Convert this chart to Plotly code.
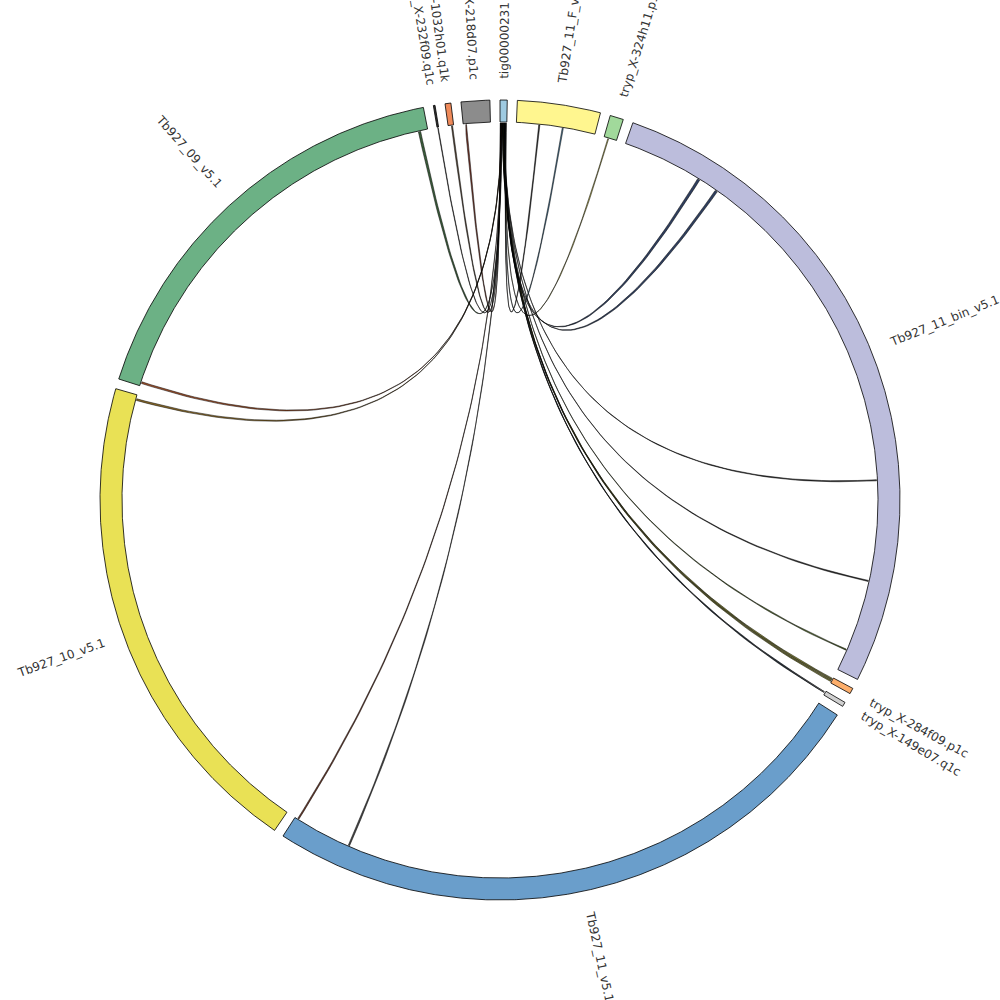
import numpy as np
import plotly.graph_objects as go

# ---------------- data ----------------
seg_names = ["tig00000231", "Tb927_11_F_v5.1", "tryp_X-324h11.p1c", "Tb927_11_bin_v5.1",
             "tryp_X-284f09.p1c", "tryp_X-149e07.q1c", "Tb927_11_v5.1", "Tb927_10_v5.1",
             "Tb927_09_v5.1", "tryp_X-232f09.q1c", "tryp_X-1032h01.q1k", "tryp_X-218d07.p1c"]
seg_lengths_kb = [60, 697, 113, 5621, 49, 38, 5222, 4153, 3546, 14, 49, 240]
seg_colors = ["#9ecae1", "#fff68f", "#a1d99b", "#bcbddc", "#fdae6b", "#d0d0d0",
              "#6a9ecb", "#e9e155", "#6cb185", "#333333", "#ef8a5a", "#8c8c8c"]

# links: all from tig00000231 to a target segment (positions in kb)
link_target = ["tryp_X-218d07.p1c", "tryp_X-1032h01.q1k", "tryp_X-232f09.q1c",
               "Tb927_09_v5.1", "Tb927_09_v5.1", "Tb927_10_v5.1",
               "Tb927_11_v5.1", "Tb927_11_v5.1",
               "tryp_X-149e07.q1c", "tryp_X-149e07.q1c",
               "tryp_X-284f09.p1c", "tryp_X-284f09.p1c", "tryp_X-284f09.p1c",
               "Tb927_11_bin_v5.1", "Tb927_11_bin_v5.1", "Tb927_11_bin_v5.1",
               "Tb927_11_bin_v5.1", "Tb927_11_bin_v5.1",
               "tryp_X-324h11.p1c", "Tb927_11_F_v5.1", "Tb927_11_F_v5.1"]
link_target_start = [17, 29, 5, 3462, 23, 4104, 5185, 4682, 12, 4, 29, 17, 6,
                     5427, 4792, 3902, 890, 705, 35, 405, 197]
link_target_len = [12, 10, 5, 20, 15, 15, 12, 12, 6, 6, 9, 9, 9,
                   10, 10, 10, 22, 22, 8, 10, 10]
link_tig_start = [2.0, 4.5, 7.0, 9.5, 12.0, 14.5, 17.0, 19.5, 22.0, 24.5, 27.0, 29.5, 32.0,
                  34.5, 37.0, 39.5, 42.0, 44.5, 47.0, 50.0, 53.0]
link_tig_len = [2.0] * 21
link_colors = ["#7a3b2e", "#5a4a3a", "#444444", "#3b5e3b", "#a0522d", "#8b6b2b",
               "#6b3a2a", "#4a4a4a", "#3a4a5a", "#3a4a5a", "#9a9a40", "#9a9a40", "#9a9a40",
               "#556b2f", "#333333", "#333333", "#2f3f5f", "#2f3f5f", "#c8c060", "#4a7a9a",
               "#333333"]

# ---------------- layout geometry ----------------
GAP = 1.45
R_OUT, R_IN, R_CHORD, R_LABEL = 400, 378, 377, 421
XMIN, YMAX = -500, 500
n = len(seg_names)
deg_per_kb = (360 - n * GAP) / sum(seg_lengths_kb)
seg_start = {}
cur = 0.0
for name, L in zip(seg_names, seg_lengths_kb):
    seg_start[name] = cur
    cur += L * deg_per_kb + GAP


def xy(theta, r):
    t = np.radians(theta)
    return r * np.sin(t), r * np.cos(t)


def arc(t0, t1, r, step=0.2):
    k = max(2, int(abs(t1 - t0) / step) + 2)
    th = np.linspace(t0, t1, k)
    return xy(th, r)


fig = go.Figure()

# chords
tig = seg_names[0]
for tgt, ts, tl, qs, ql, col in zip(link_target, link_target_start, link_target_len,
                                     link_tig_start, link_tig_len, link_colors):
    a1 = seg_start[tig] + qs * deg_per_kb
    a2 = seg_start[tig] + (qs + ql) * deg_per_kb
    b1 = seg_start[tgt] + ts * deg_per_kb
    b2 = seg_start[tgt] + (ts + tl) * deg_per_kb
    t = np.linspace(0, 1, 80)
    xs, ys = [], []
    ax_, ay_ = arc(a1, a2, R_CHORD)
    xs += list(ax_); ys += list(ay_)
    p0 = np.array(xy(a2, R_CHORD)); p2 = np.array(xy(b1, R_CHORD))
    xs += list((1 - t) ** 2 * p0[0] + t ** 2 * p2[0])
    ys += list((1 - t) ** 2 * p0[1] + t ** 2 * p2[1])
    bx_, by_ = arc(b1, b2, R_CHORD)
    xs += list(bx_); ys += list(by_)
    p0 = np.array(xy(b2, R_CHORD)); p2 = np.array(xy(a1, R_CHORD))
    xs += list((1 - t) ** 2 * p0[0] + t ** 2 * p2[0])
    ys += list((1 - t) ** 2 * p0[1] + t ** 2 * p2[1])
    fig.add_trace(go.Scatter(x=xs, y=ys, mode="lines", fill="toself", fillcolor=col,
                             line=dict(color="black", width=0.5), hoverinfo="skip",
                             showlegend=False))

# segments
for name, L, col in zip(seg_names, seg_lengths_kb, seg_colors):
    s = seg_start[name]
    e = s + L * deg_per_kb
    ox, oy = arc(s, e, R_OUT)
    ix, iy = arc(e, s, R_IN)
    xs = list(ox) + list(ix) + [ox[0]]
    ys = list(oy) + list(iy) + [oy[0]]
    fig.add_trace(go.Scatter(x=xs, y=ys, mode="lines", fill="toself", fillcolor=col,
                             line=dict(color="black", width=0.8), hoverinfo="skip",
                             showlegend=False, name=name))

# labels
CW = {'0': .636, '1': .636, '2': .636, '3': .636, '4': .636, '5': .636, '6': .636, '7': .636,
      '8': .636, '9': .636, 'T': .611, 'X': .685, 'F': .575, '_': .5, '-': .361, '.': .318,
      'a': .613, 'b': .635, 'c': .55, 'd': .635, 'e': .615, 'f': .352, 'g': .635, 'h': .634,
      'i': .278, 'k': .579, 'n': .634, 'p': .635, 'q': .635, 'r': .411, 't': .392, 'v': .592,
      'y': .592}
FS = 12
for name, L in zip(seg_names, seg_lengths_kb):
    mid = seg_start[name] + L * deg_per_kb / 2
    w = sum(CW.get(ch, .6) for ch in name) * FS
    rc = R_LABEL + w / 2
    x, y = xy(mid, rc)
    ang = (mid - 90) if (mid % 360) < 180 else (mid - 270)
    fig.add_annotation(x=(x - XMIN) / 1000, y=(y - (YMAX - 1000)) / 1000,
                       xref="paper", yref="paper",
                       text=name, showarrow=False, textangle=ang,
                       xanchor="center", yanchor="middle",
                       font=dict(family="DejaVu Sans", size=FS, color="#333333"))

fig.update_layout(width=1000, height=1000, margin=dict(l=0, r=0, t=0, b=0),
                  paper_bgcolor="white", plot_bgcolor="white", showlegend=False,
                  xaxis=dict(range=[XMIN, XMIN + 1000], visible=False, fixedrange=True),
                  yaxis=dict(range=[YMAX - 1000, YMAX], visible=False, fixedrange=True))
fig.write_html("out.html", config={"displayModeBar": False, "staticPlot": True},
               post_script="document.body.style.margin='0';document.body.style.overflow='hidden';")
